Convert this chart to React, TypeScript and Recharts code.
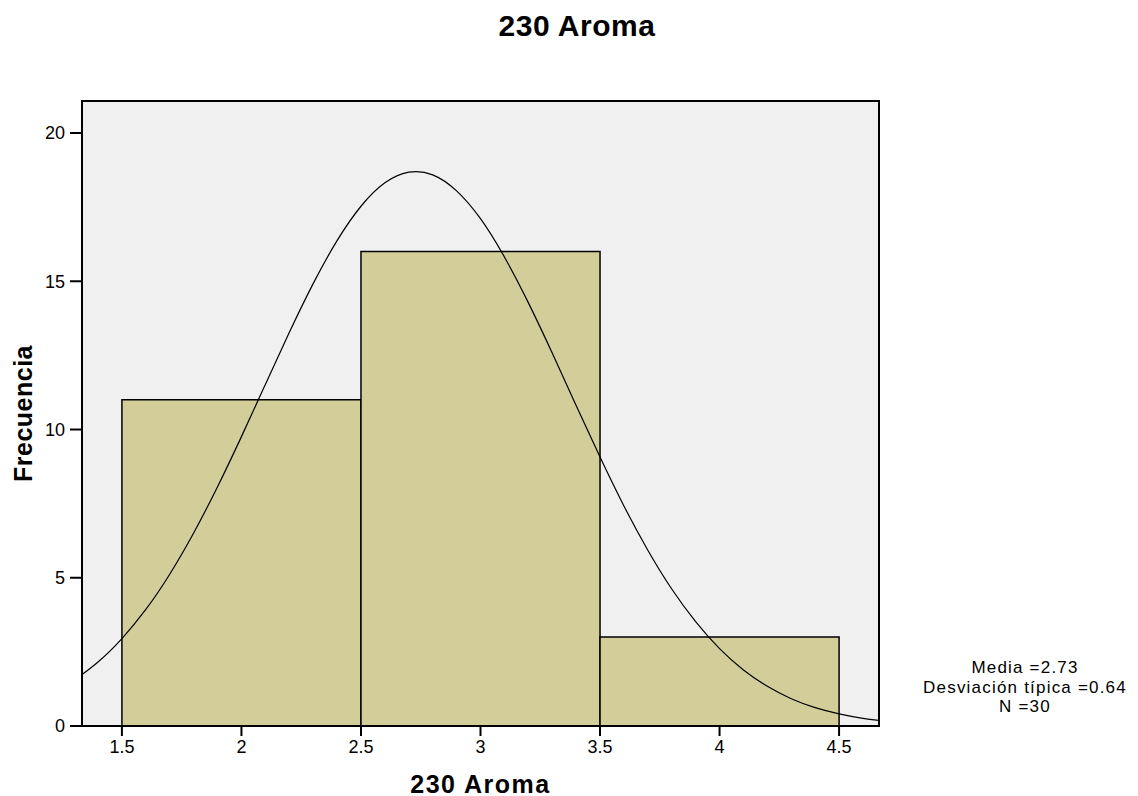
import React from 'react';
import { ComposedChart, Line, XAxis, YAxis, CartesianGrid, ReferenceArea, Label } from 'recharts';

// histogram bins (bin width 1)
const binStarts = [1.5, 2.5, 3.5];
const binEnds = [2.5, 3.5, 4.5];
const binCounts = [11, 16, 3];

// fitted normal curve (mean 2.73, sd 0.64, N 30)
const curveX = [
  1.3, 1.4, 1.5, 1.6, 1.7, 1.8, 1.9, 2.0, 2.1, 2.2, 2.3, 2.4, 2.5, 2.6, 2.7, 2.8, 2.9,
  3.0, 3.1, 3.2, 3.3, 3.4, 3.5, 3.6, 3.7, 3.8, 3.9, 4.0, 4.1, 4.2, 4.3, 4.4, 4.5, 4.6, 4.7,
];
const curveY = [
  1.54, 2.16, 2.95, 3.93, 5.12, 6.51, 8.07, 9.76, 11.52, 13.27, 14.92, 16.37, 17.53, 18.32, 18.68, 18.59, 18.05,
  17.11, 15.82, 14.28, 12.58, 10.81, 9.07, 7.42, 5.93, 4.62, 3.52, 2.61, 1.89, 1.34, 0.92, 0.62, 0.41, 0.26, 0.16,
];

const xTicks = [1.5, 2, 2.5, 3, 3.5, 4, 4.5];
const yTicks = [0, 5, 10, 15, 20];
const xDomain: [number, number] = [1.333, 4.667];
const yDomain: [number, number] = [0, 21.08];

const statsLines = ['Media =2.73', 'Desviación típica =0.64', 'N =30'];
const title = '230 Aroma';

const curveData = curveX.map((x, i) => ({ x, y: curveY[i] }));

const FONT = '"Liberation Sans", Arial, sans-serif';

export default function App() {
  return (
    <div style={{ position: 'absolute', left: 0, top: 0, width: 1138, height: 796, background: '#fff', fontFamily: FONT }}>
      <div
        style={{
          position: 'absolute',
          left: 0,
          width: 1154,
          top: 9,
          textAlign: 'center',
          fontSize: 30,
          fontWeight: 'bold',
          letterSpacing: 0.5,
          color: '#000',
        }}
      >
        {title}
      </div>

      <ComposedChart
        width={1138}
        height={796}
        data={curveData}
        margin={{ top: 101, right: 259, bottom: 40, left: 42 }}
      >
        <CartesianGrid fill="#f0f0f0" horizontal={false} vertical={false} />
        <XAxis
          type="number"
          dataKey="x"
          domain={xDomain}
          allowDataOverflow
          ticks={xTicks}
          height={30}
          axisLine={false}
          tickSize={10}
          tickMargin={4}
          tickLine={{ stroke: '#000', strokeWidth: 2 }}
          tick={{ fill: '#000', fontSize: 18, fontFamily: FONT }}
        />
        <YAxis
          type="number"
          domain={yDomain}
          allowDataOverflow
          ticks={yTicks}
          width={40}
          axisLine={false}
          tickSize={12}
          tickMargin={5}
          tickLine={{ stroke: '#000', strokeWidth: 2 }}
          tick={{ fill: '#000', fontSize: 18, fontFamily: FONT }}
        >
          <Label
            value="Frecuencia"
            angle={-90}
            position="left"
            offset={19}
            style={{ fontSize: 25, fontWeight: 'bold', fill: '#000', fontFamily: FONT, textAnchor: 'middle', letterSpacing: 0.5 }}
          />
        </YAxis>

        {binStarts.map((start, i) => (
          <ReferenceArea
            key={start}
            x1={start}
            x2={binEnds[i]}
            y1={0}
            y2={binCounts[i]}
            fill="#d3ce99"
            fillOpacity={1}
            stroke="#000"
            strokeWidth={1.5}
            ifOverflow="visible"
          />
        ))}

        <ReferenceArea
          x1={xDomain[0]}
          x2={xDomain[1]}
          y1={yDomain[0]}
          y2={yDomain[1]}
          fill="none"
          stroke="#000"
          strokeWidth={2}
          ifOverflow="visible"
        />

        <Line
          type="natural"
          dataKey="y"
          stroke="#000"
          strokeWidth={1.2}
          dot={false}
          activeDot={false}
          isAnimationActive={false}
        />
      </ComposedChart>

      {/* x-axis title, kept as html so it sits inside the page bottom */}
      <div
        style={{
          position: 'absolute',
          left: 82,
          width: 797,
          top: 774,
          textAlign: 'center',
          fontSize: 25,
          lineHeight: '20px',
          fontWeight: 'bold',
          letterSpacing: 1.5,
          color: '#000',
        }}
      >
        {title}
      </div>

      <div
        style={{
          position: 'absolute',
          left: 900,
          width: 250,
          top: 658,
          textAlign: 'center',
          fontSize: 17,
          letterSpacing: 1.2,
          lineHeight: '19.5px',
          color: '#000',
        }}
      >
        {statsLines.map((line) => (
          <div key={line}>{line}</div>
        ))}
      </div>
    </div>
  );
}
